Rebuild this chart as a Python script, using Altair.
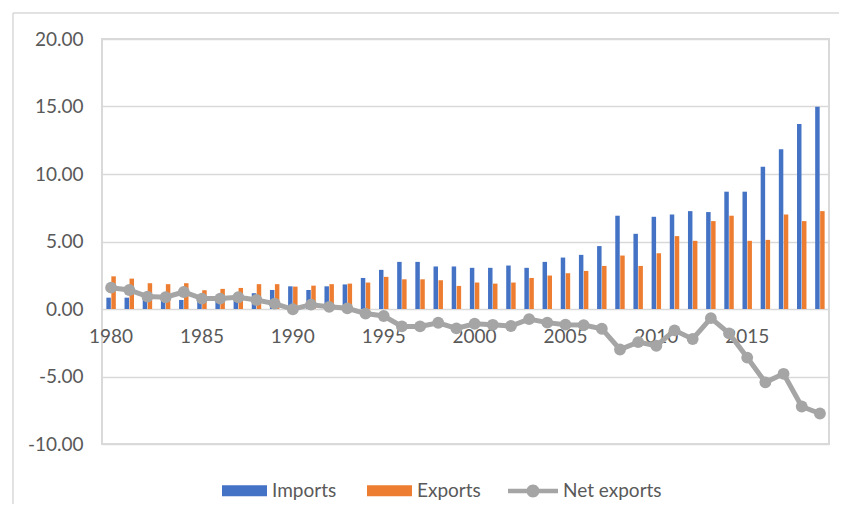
import altair as alt
import pandas as pd

years = list(range(1980, 2020))

imports = [0.84, 0.84, 1.00, 0.97, 0.67, 0.62, 0.72, 0.69, 1.17, 1.41,
           1.68, 1.41, 1.68, 1.82, 2.30, 2.90, 3.49, 3.49, 3.15, 3.15,
           3.05, 3.05, 3.22, 3.05, 3.49, 3.81, 4.01, 4.66, 6.91, 5.57,
           6.83, 7.00, 7.25, 7.18, 8.69, 8.69, 10.54, 11.83, 13.71, 14.98]

exports = [2.42, 2.25, 1.91, 1.84, 1.91, 1.39, 1.49, 1.56, 1.84, 1.84,
           1.66, 1.73, 1.84, 1.88, 1.96, 2.38, 2.20, 2.20, 2.13, 1.71,
           1.96, 1.88, 1.96, 2.30, 2.48, 2.65, 2.82, 3.19, 3.96, 3.19,
           4.13, 5.40, 5.05, 6.51, 6.91, 5.05, 5.12, 7.00, 6.51, 7.25]

net_exports = [1.58, 1.41, 0.92, 0.87, 1.26, 0.77, 0.77, 0.87, 0.67, 0.40,
               -0.02, 0.32, 0.16, 0.05, -0.34, -0.52, -1.29, -1.29, -1.02, -1.44,
               -1.09, -1.17, -1.26, -0.75, -1.01, -1.16, -1.19, -1.46, -3.00, -2.45,
               -2.72, -1.58, -2.22, -0.68, -1.80, -3.60, -5.43, -4.80, -7.22, -7.74]

x_tick_labels = [1980, 1985, 1990, 1995, 2000, 2005, 2010, 2015]
y_ticks = [-10, -5, 0, 5, 10, 15, 20]

bar_series = ["Imports", "Exports"]
bar_colors = ["#4472C4", "#ED7D31"]
line_series = ["Net exports"]
line_color = "#A5A5A5"

bars_df = pd.DataFrame({
    "year": years * 2,
    "series": ["Imports"] * len(years) + ["Exports"] * len(years),
    "value": imports + exports,
})
net_df = pd.DataFrame({"year": years, "series": "Net exports", "value": net_exports})

FONT = "Lato"
TXT = "#595959"
GRID = "#d9d9d9"

x_enc = alt.X(
    "year:O",
    scale=alt.Scale(paddingInner=0.48, paddingOuter=0.24),
    axis=alt.Axis(values=x_tick_labels, offset=-135, labelAngle=0, domain=False,
                  ticks=False, tickSize=0, labelPadding=18, grid=False, title=None,
                  labelFont=FONT, labelFontSize=19, labelColor=TXT),
)
y_enc = alt.Y(
    "value:Q",
    scale=alt.Scale(domain=[-10, 20], nice=False, zero=False),
    axis=alt.Axis(values=y_ticks, format=".2f",
                  labelExpr="replace(datum.label, '\u2212', '-')",
                  grid=True, gridColor=GRID, gridWidth=1.5,
                  domain=False, ticks=False, labelPadding=19, title=None,
                  labelFont=FONT, labelFontSize=19, labelColor=TXT),
)

RECT_PATH = "M-1,-0.24H1V0.24H-1Z"
LINE_PATH = ("M-1,-0.09H1V0.09H-1Z "
             "M0.26,0A0.26,0.26 0 1 1 -0.26,0A0.26,0.26 0 1 1 0.26,0Z")

bars = alt.Chart(bars_df).mark_bar().encode(
    x=x_enc,
    xOffset=alt.XOffset("series:N", sort=bar_series, scale=alt.Scale(paddingInner=0.1)),
    y=y_enc,
    color=alt.Color(
        "series:N",
        scale=alt.Scale(domain=bar_series, range=bar_colors),
        legend=alt.Legend(orient="none", legendX=120, legendY=429, direction="horizontal",
                          title=None, symbolType=RECT_PATH, symbolSize=2025,
                          symbolStrokeWidth=0, labelFont=FONT, labelFontSize=19,
                          labelColor=TXT, labelOffset=5, columnPadding=30),
    ),
)

line = alt.Chart(net_df).mark_line(color=line_color, strokeWidth=5).encode(
    x=x_enc, y=y_enc
)

points = alt.Chart(net_df).mark_circle(size=140, opacity=1).encode(
    x=x_enc,
    y=y_enc,
    color=alt.Color(
        "series:N",
        scale=alt.Scale(domain=line_series, range=[line_color]),
        legend=alt.Legend(orient="none", legendX=406, legendY=427, direction="horizontal",
                          title=None, symbolType=LINE_PATH, symbolSize=2500,
                          symbolStrokeWidth=0, symbolOpacity=1, labelFont=FONT,
                          labelFontSize=19, labelColor=TXT, labelOffset=5),
    ),
)

frame_df = pd.DataFrame({"k": [0]})
frame_left = alt.Chart(frame_df).mark_rule(color=GRID, strokeWidth=1.5).encode(
    x=alt.value(-89), y=alt.value(-26), y2=alt.value(480)
)
frame_top = alt.Chart(frame_df).mark_rule(color=GRID, strokeWidth=1.5).encode(
    x=alt.value(-89), x2=alt.value(760), y=alt.value(-26)
)

chart = alt.layer(frame_left, frame_top, bars, line, points).resolve_scale(
    color="independent"
).properties(
    width=727,
    height=405,
    autosize=alt.AutoSizeParams(type="none"),
    padding={"left": 94, "top": 31, "right": 10, "bottom": 60},
).configure_view(stroke=GRID, strokeWidth=2)

chart.save("out.html", embed_options={"renderer": "svg", "actions": False})
